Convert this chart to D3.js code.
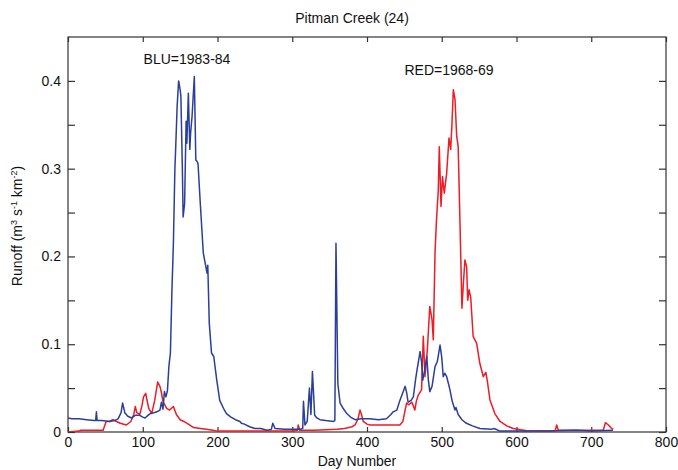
<!DOCTYPE html>
<html>
<head>
<meta charset="utf-8">
<script src="https://cdn.jsdelivr.net/npm/d3@7"></script>
<style>
  html, body { margin: 0; padding: 0; background: #fff; }
  text { font-family: "Liberation Sans", Arial, Helvetica, sans-serif; fill: #111; }
</style>
</head>
<body>
<svg id="chart" width="678" height="470"></svg>
<script>
// ---- data ----
const blueDay = [0,5,15,25,35,37,38,39,45,56,62,67,71,73,76,80,85,90,96,100,103,107,110,115,119,123,125,127,129,131,133,135,137,139,141,143,144,146,148,150,151,153,154,156,158,159,161,163,164,166,169,171,173,174,177,181,184,186,187,189,192,195,199,203,208,212,218,224,230,232,236,243,250,258,266,272,274,277,290,300,310,314,315,317,320,323,325,327,330,333,337,345,355,357,358.5,360,361,364,368,373,378,384,392,404,415,426,432,435,440,444,448,451,453,455,459,462,465,467,471,473,474.6,477,480,482,484,487,491,494,497.7,500,502,504,506.6,509,511,514,517.7,519,522,527,533,541,551,566,570,578,600,640,680,700,729];
const blueVal = [0.016,0.015,0.015,0.014,0.013,0.013,0.023,0.013,0.013,0.012,0.013,0.015,0.022,0.033,0.022,0.018,0.016,0.019,0.019,0.017,0.016,0.019,0.021,0.022,0.023,0.025,0.034,0.026,0.046,0.040,0.047,0.075,0.09,0.16,0.215,0.30,0.322,0.371,0.40,0.39,0.383,0.30,0.245,0.26,0.354,0.329,0.386,0.322,0.34,0.36,0.405,0.31,0.308,0.305,0.26,0.204,0.19,0.181,0.19,0.124,0.09,0.086,0.059,0.036,0.027,0.021,0.017,0.014,0.012,0.010,0.009,0.006,0.004,0.004,0.002,0.003,0.010,0.004,0.003,0.003,0.003,0.004,0.035,0.008,0.012,0.05,0.020,0.069,0.019,0.016,0.014,0.013,0.012,0.013,0.215,0.12,0.055,0.033,0.027,0.021,0.017,0.014,0.015,0.015,0.014,0.015,0.020,0.023,0.025,0.036,0.045,0.052,0.045,0.034,0.036,0.040,0.060,0.071,0.0916,0.080,0.059,0.070,0.086,0.06,0.046,0.052,0.0745,0.08,0.099,0.085,0.063,0.067,0.063,0.055,0.048,0.035,0.025,0.028,0.02,0.014,0.0099,0.007,0.004,0.003,0.004,0.001,0.001,0.001,0.002,0.001,0.002];

const redDay = [0,15,17,47,51,55,60,65,70,78,84,88,90,92,96,99,101,104,106,108,112,116,120,123,125,127,132,136,141,145,150,155,161,168,177,185,194,200,300,307,308,310,330,360,370,380,384,388,390.6,393,395,400,404,440,444,448,451,453,456,460,464,466,468.6,473,475.3,477.6,480.7,484,487,488.7,491,493,495.4,496.7,499,501,503.4,506.6,509.7,512,513.7,515.5,517.7,520,522,524.4,527,529,531,533.3,534.7,536.5,538.7,542,546.7,551,555.6,559,561,564.5,571,578,587,595.6,613.6,650,652,653.7,656,690,716,719,723,726,729.5];
const redVal = [0.000,0.001,0.002,0.002,0.012,0.012,0.014,0.012,0.010,0.008,0.012,0.020,0.029,0.022,0.020,0.030,0.040,0.044,0.035,0.027,0.021,0.036,0.057,0.052,0.045,0.035,0.027,0.025,0.029,0.020,0.014,0.012,0.009,0.005,0.004,0.003,0.002,0.001,0.001,0.002,0.008,0.002,0.002,0.003,0.004,0.006,0.008,0.015,0.025,0.019,0.012,0.009,0.008,0.008,0.008,0.012,0.025,0.033,0.031,0.034,0.025,0.035,0.042,0.048,0.109,0.063,0.0935,0.143,0.128,0.105,0.204,0.242,0.276,0.325,0.257,0.291,0.272,0.295,0.335,0.322,0.352,0.39,0.379,0.337,0.325,0.238,0.141,0.17,0.196,0.188,0.15,0.162,0.154,0.109,0.101,0.078,0.063,0.068,0.058,0.0365,0.021,0.012,0.007,0.004,0.0015,0.001,0.002,0.008,0.002,0.002,0.002,0.0106,0.008,0.005,0.003];

const xTicks = [0,100,200,300,400,500,600,700,800];
const yMajorTicks = [0,0.1,0.2,0.3,0.4];
const yMinorTicks = [0.05,0.15,0.25,0.35];

const titleText = "Pitman Creek (24)";
const xLabel = "Day Number";
const blueNote = "BLU=1983-84";
const redNote = "RED=1968-69";

// ---- layout ----
const L = 68, R = 666, T = 37, B = 432;
const svg = d3.select("#chart");
const x = d3.scaleLinear().domain([0, 800]).range([L, R]);
const y = d3.scaleLinear().domain([0, 0.45]).range([B, T]);

const axisColor = "#333";

// frame
svg.append("rect").attr("x", L).attr("y", T).attr("width", R - L).attr("height", B - T)
  .attr("fill", "none").attr("stroke", axisColor).attr("stroke-width", 1.2);

// bottom axis (labels, inward ticks)
const gB = svg.append("g").attr("transform", `translate(0,${B})`)
  .call(d3.axisBottom(x).tickValues(xTicks).tickSize(-5).tickPadding(5).tickFormat(d3.format("d")));
// top axis (inward ticks, no labels)
const gT = svg.append("g").attr("transform", `translate(0,${T})`)
  .call(d3.axisTop(x).tickValues(xTicks).tickSize(-5).tickFormat(""));
// left axis
const gL = svg.append("g").attr("transform", `translate(${L},0)`)
  .call(d3.axisLeft(y).tickValues(yMajorTicks.concat(yMinorTicks)).tickSize(-7).tickPadding(7)
    .tickFormat(d => yMajorTicks.includes(d) ? (d === 0 ? "0" : d3.format(".1f")(d)) : ""));
// right axis
const gR = svg.append("g").attr("transform", `translate(${R},0)`)
  .call(d3.axisRight(y).tickValues(yMajorTicks.concat(yMinorTicks)).tickSize(-7).tickFormat(""));

[gB, gT, gL, gR].forEach(g => {
  g.select(".domain").remove();
  g.selectAll(".tick line").attr("stroke", axisColor).attr("stroke-width", 1.2);
  g.selectAll(".tick text").style("font-size", "14px").style("font-family", "Liberation Sans, Arial, sans-serif").attr("fill", "#111");
});

// lines
const line = d3.line().x(d => x(d[0])).y(d => y(d[1]));
const blueData = blueDay.map((d, i) => [d, blueVal[i]]);
const redData = redDay.map((d, i) => [d, redVal[i]]);

svg.append("clipPath").attr("id", "clip").append("rect")
  .attr("x", L).attr("y", T).attr("width", R - L).attr("height", B - T);

svg.append("path").datum(redData).attr("d", line).attr("fill", "none")
  .attr("stroke", "#ee1c25").attr("stroke-width", 1.5).attr("stroke-linejoin", "round")
  .attr("clip-path", "url(#clip)");
svg.append("path").datum(blueData).attr("d", line).attr("fill", "none")
  .attr("stroke", "#2b3f99").attr("stroke-width", 1.5).attr("stroke-linejoin", "round")
  .attr("clip-path", "url(#clip)");

// texts
svg.append("text").attr("x", 352).attr("y", 23).attr("text-anchor", "middle")
  .style("font-size", "14px").text(titleText);
svg.append("text").attr("x", 357).attr("y", 466).attr("text-anchor", "middle")
  .style("font-size", "14px").text(xLabel);
svg.append("text").attr("x", 187).attr("y", 64).attr("text-anchor", "middle")
  .style("font-size", "14px").text(blueNote);
svg.append("text").attr("x", 449).attr("y", 75).attr("text-anchor", "middle")
  .style("font-size", "14px").text(redNote);

// y label with superscripts
const yl = svg.append("text").attr("transform", "translate(22,226) rotate(-90)")
  .attr("text-anchor", "middle").style("font-size", "14px");
yl.append("tspan").text("Runoff (m");
yl.append("tspan").attr("dy", -5).style("font-size", "9px").text("3");
yl.append("tspan").attr("dy", 5).text(" s");
yl.append("tspan").attr("dy", -5).style("font-size", "9px").text("-1");
yl.append("tspan").attr("dy", 5).text(" km");
yl.append("tspan").attr("dy", -5).style("font-size", "9px").text("-2");
yl.append("tspan").attr("dy", 5).text(")");
</script>
</body>
</html>
